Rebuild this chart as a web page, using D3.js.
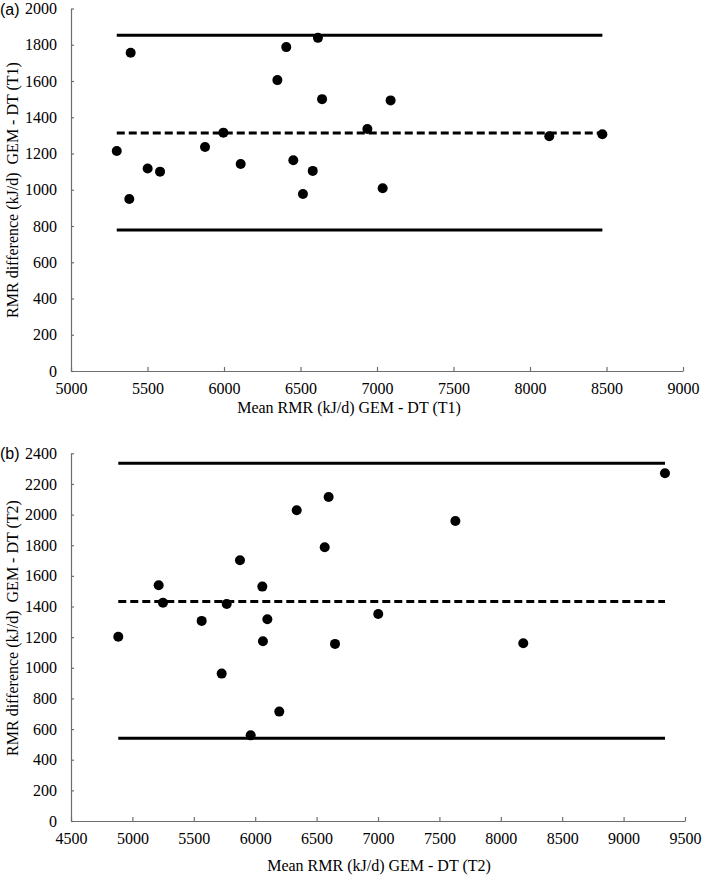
<!DOCTYPE html>
<html>
<head>
<meta charset="utf-8">
<script src="https://cdn.jsdelivr.net/npm/d3@7/dist/d3.min.js"></script>
<style>
  html, body { margin: 0; padding: 0; background: #fff; }
  svg { display: block; }
</style>
</head>
<body>
<svg id="chart" width="702" height="878"></svg>
<script>
// ---- Panel (a): T1 ----
const meanT1 = [5299, 5390, 5381, 5501, 5582, 5876, 5996, 6109, 6349, 6407,
                6614, 6641, 6453, 6516, 6580, 6937, 7089, 7037, 8126, 8473];
const diffT1 = [1214, 1756, 949, 1117, 1100, 1236, 1315, 1142, 1605, 1787,
                1838, 1500, 1163, 977, 1104, 1335, 1493, 1008, 1295, 1306];
const limitsT1 = [778, 1313, 1853];          // lower LoA, mean bias, upper LoA
const xTicksT1 = [5000, 5500, 6000, 6500, 7000, 7500, 8000, 8500, 9000];
const yTicksT1 = [0, 200, 400, 600, 800, 1000, 1200, 1400, 1600, 1800, 2000];

// ---- Panel (b): T2 ----
const meanT2 = [4885, 5214, 5249, 5564, 5727, 5768, 5876, 5963, 6058, 6063,
                6099, 6196, 6338, 6566, 6598, 6650, 7002, 7630, 8183, 9337];
const diffT2 = [1203, 1539, 1425, 1306, 962, 1417, 1702, 559, 1530, 1173,
                1317, 714, 2028, 1787, 2115, 1156, 1351, 1958, 1160, 2270];
const limitsT2 = [540, 1432, 2335];
const xTicksT2 = [4500, 5000, 5500, 6000, 6500, 7000, 7500, 8000, 8500, 9000, 9500];
const yTicksT2 = [0, 200, 400, 600, 800, 1000, 1200, 1400, 1600, 1800, 2000, 2200, 2400];

const SERIF = "'Liberation Serif', 'Times New Roman', serif";

const panels = [
  { tag: "(a)", xs: meanT1, ys: diffT1, lim: limitsT1, xt: xTicksT1, yt: yTicksT1,
    left: 71, right: 683, top: 8.5, bottom: 371,
    xTitle: "Mean RMR (kJ/d) GEM - DT (T1)", yTitle: "RMR difference (kJ/d)  GEM - DT (T1)",
    xTitleX: 349, xTitleY: 413, yTitleY: 190 },
  { tag: "(b)", xs: meanT2, ys: diffT2, lim: limitsT2, xt: xTicksT2, yt: yTicksT2,
    left: 71, right: 685, top: 453.3, bottom: 821,
    xTitle: "Mean RMR (kJ/d) GEM - DT (T2)", yTitle: "RMR difference (kJ/d)  GEM - DT (T2)",
    xTitleX: 379, xTitleY: 871, yTitleY: 628 }
];

const svg = d3.select("#chart");

panels.forEach(p => {
  const x = d3.scaleLinear().domain([p.xt[0], p.xt[p.xt.length - 1]]).range([p.left, p.right]);
  const y = d3.scaleLinear().domain([p.yt[0], p.yt[p.yt.length - 1]]).range([p.bottom, p.top]);
  const g = svg.append("g");

  // axes
  const xAxis = d3.axisBottom(x).tickValues(p.xt).tickSizeInner(-4).tickSizeOuter(0)
    .tickFormat(d3.format("d")).tickPadding(12);
  const yAxis = d3.axisLeft(y).tickValues(p.yt).tickSizeInner(-3).tickSizeOuter(0)
    .tickFormat(d3.format("d")).tickPadding(14);

  const gx = g.append("g").attr("transform", `translate(0,${p.bottom})`).call(xAxis);
  const gy = g.append("g").attr("transform", `translate(${p.left},0)`).call(yAxis);
  [gx, gy].forEach(a => {
    a.attr("font-family", SERIF).attr("font-size", 16);
    a.select(".domain").attr("stroke", "#6e6e6e").attr("stroke-width", 1.2);
    a.selectAll(".tick line").attr("stroke", "#6e6e6e").attr("stroke-width", 1.2);
    a.selectAll(".tick text").attr("fill", "#000")
      .style("font-family", SERIF).style("font-size", "16px");
  });
  gx.selectAll(".tick text").attr("dy", "0.71em");

  // limit lines
  const x0 = d3.min(p.xs), x1 = d3.max(p.xs);
  g.selectAll("line.lim").data(p.lim).enter().append("line")
    .attr("class", "lim")
    .attr("x1", x(x0)).attr("x2", x(x1))
    .attr("y1", d => y(d)).attr("y2", d => y(d))
    .attr("stroke", "#000").attr("stroke-width", 3)
    .attr("stroke-dasharray", (d, i) => i === 1 ? "8,4" : null);

  // points
  g.selectAll("circle").data(p.xs).enter().append("circle")
    .attr("cx", d => x(d)).attr("cy", (d, i) => y(p.ys[i]))
    .attr("r", 5).attr("fill", "#000");

  // titles
  g.append("text").attr("x", p.xTitleX).attr("y", p.xTitleY)
    .attr("text-anchor", "middle")
    .style("font-family", SERIF)
    .style("font-size", "16px").style("white-space", "pre")
    .text(p.xTitle);
  g.append("text")
    .attr("transform", `translate(18,${p.yTitleY}) rotate(-90)`)
    .attr("text-anchor", "middle")
    .style("font-family", SERIF)
    .style("font-size", "16px").style("white-space", "pre")
    .text(p.yTitle);

  // panel tag
  g.append("text").attr("x", 0).attr("y", p.top + 6)
    .style("font-family", "'Liberation Sans', Arial, sans-serif")
    .style("font-size", "16px")
    .text(p.tag);
});
</script>
</body>
</html>
